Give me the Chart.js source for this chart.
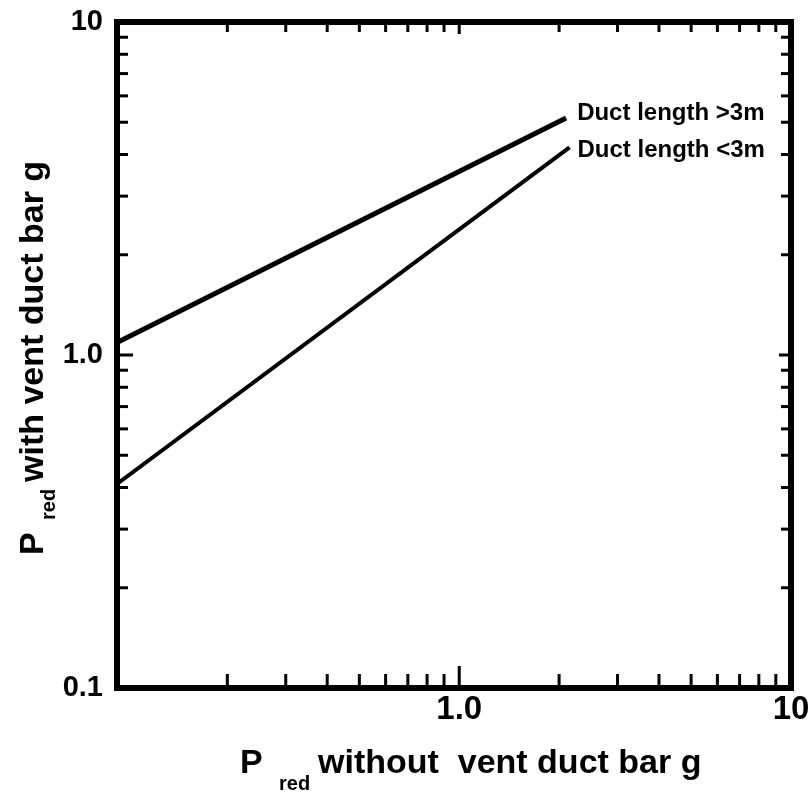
<!DOCTYPE html>
<html>
<head>
<meta charset="utf-8">
<script src="https://cdn.jsdelivr.net/npm/chart.js@4.4.0/dist/chart.umd.min.js"></script>
<style>
  html, body { margin: 0; padding: 0; background: #fff; }
  canvas { display: block; }
</style>
</head>
<body>
<canvas id="ventChart" width="810" height="792"></canvas>
<script>
// P_red without vent duct (bar g) on x, P_red with vent duct (bar g) on y
var longDuctX = [0.093, 2.1];
var longDuctY = [1.09, 5.15];     // duct length > 3 m
var shortDuctX = [0.093, 2.15];
var shortDuctY = [0.41, 4.2];     // duct length < 3 m
var seriesLabels = ['Duct length >3m', 'Duct length <3m'];
var xTickLabels = { 1: '1.0', 10: '10' };
var yTickLabels = { 0.1: '0.1', 1: '1.0', 10: '10' };

var FONT = '"Liberation Sans", Arial, sans-serif';

function toPoints(xs, ys) {
    return xs.map(function (x, i) { return { x: x, y: ys[i] }; });
}

function sameLog(a, b) {
    return Math.abs(Math.log10(a) - Math.log10(b)) < 1e-6;
}

function labelFor(map, value) {
    for (var k in map) {
        if (sameLog(parseFloat(k), value)) return map[k];
    }
    return '';
}

function isDecade(v) {
    var l = Math.log10(v);
    return Math.abs(l - Math.round(l)) < 1e-6;
}

// keep only 1..9 x 10^n ticks (drop the 1.5-style ones chart.js adds)
function keepWholeTicks(scale) {
    scale.ticks = scale.ticks.filter(function (t) {
        var m = t.value / Math.pow(10, Math.floor(Math.log10(t.value) + 1e-9));
        return Math.abs(m - Math.round(m)) < 1e-6;
    });
}

var boxPlugin = {
    id: 'boxPlugin',
    afterDatasetsDraw: function (chart) {
        var c = chart.ctx, a = chart.chartArea;
        var xs = chart.scales.x, ys = chart.scales.y;

        function seg(x1, y1, x2, y2) {
            c.beginPath(); c.moveTo(x1, y1); c.lineTo(x2, y2); c.stroke();
        }

        c.save();
        c.strokeStyle = '#000';
        c.lineCap = 'butt';

        // tick marks point into the plot on all four sides
        c.lineWidth = 3;
        xs.ticks.forEach(function (t) {
            var px = xs.getPixelForValue(t.value), big = isDecade(t.value);
            if (px < a.left + 12 || px > a.right - 6) return;
            seg(px, a.bottom, px, a.bottom - (big ? 22 : 14));
            seg(px, a.top, px, a.top + (big ? 12 : 10));
        });
        ys.ticks.forEach(function (t) {
            var py = ys.getPixelForValue(t.value), big = isDecade(t.value);
            if (py < a.top + 6 || py > a.bottom - 6) return;
            seg(a.left, py, a.left + (big ? 16 : 11), py);
            seg(a.right, py, a.right - (big ? 12 : 10), py);
        });

        // heavy frame
        c.lineWidth = 6;
        c.lineJoin = 'miter';
        c.strokeRect(a.left, a.top, a.right - a.left, a.bottom - a.top);

        // line labels next to the line ends
        c.fillStyle = '#000';
        c.font = 'bold 24px ' + FONT;
        c.textBaseline = 'alphabetic';
        c.textAlign = 'left';
        var ends = [
            { x: longDuctX[1], y: longDuctY[1], dx: 11, dy: 2 },
            { x: shortDuctX[1], y: shortDuctY[1], dx: 8, dy: 10 }
        ];
        ends.forEach(function (e, i) {
            c.fillText(seriesLabels[i], xs.getPixelForValue(e.x) + e.dx, ys.getPixelForValue(e.y) + e.dy);
        });

        // x axis title with subscript
        c.font = 'bold 34px ' + FONT;
        c.fillText('P', 240, 773);
        c.fillText('without  vent duct bar g', 318, 773);
        c.font = 'bold 20px ' + FONT;
        c.fillText('red', 279, 790);

        // y axis title, rotated
        c.translate(43, 555);
        c.rotate(-Math.PI / 2);
        c.font = 'bold 34px ' + FONT;
        c.fillText('P', 0, 0);
        c.fillText('with vent duct bar g', 73, 0);
        c.font = 'bold 20px ' + FONT;
        c.fillText('red', 35, 12);
        c.restore();
    }
};

function noEdgePadding(s) {
    s.paddingTop = 0;
    s.paddingBottom = 0;
    s.paddingLeft = 0;
    s.paddingRight = 0;
}

var ctx = document.getElementById('ventChart').getContext('2d');
new Chart(ctx, {
    type: 'line',
    data: {
        datasets: [
            {
                label: seriesLabels[0],
                data: toPoints(longDuctX, longDuctY),
                borderColor: '#000',
                borderWidth: 5,
                pointRadius: 0,
                tension: 0
            },
            {
                label: seriesLabels[1],
                data: toPoints(shortDuctX, shortDuctY),
                borderColor: '#000',
                borderWidth: 4,
                pointRadius: 0,
                tension: 0
            }
        ]
    },
    options: {
        responsive: false,
        animation: false,
        layout: { padding: { left: 0, right: 19, top: 22, bottom: 0 } },
        plugins: {
            legend: { display: false },
            tooltip: { enabled: false }
        },
        scales: {
            x: {
                type: 'logarithmic',
                min: 0.093,
                max: 10,
                grid: { display: false, drawTicks: false },
                border: { display: false },
                afterBuildTicks: keepWholeTicks,
                afterFit: function (s) { s.height = 104; noEdgePadding(s); },
                ticks: {
                    autoSkip: false,
                    maxRotation: 0,
                    minRotation: 0,
                    padding: 2,
                    color: '#000',
                    font: { family: FONT, size: 33, weight: 'bold' },
                    callback: function (v) { return labelFor(xTickLabels, v); }
                }
            },
            y: {
                type: 'logarithmic',
                min: 0.1,
                max: 10,
                grid: { display: false, drawTicks: false },
                border: { display: false },
                afterBuildTicks: keepWholeTicks,
                afterFit: function (s) { s.width = 117; noEdgePadding(s); },
                ticks: {
                    autoSkip: false,
                    padding: 14,
                    color: '#000',
                    font: { family: FONT, size: 29, weight: 'bold' },
                    callback: function (v) { return labelFor(yTickLabels, v); }
                }
            }
        }
    },
    plugins: [boxPlugin]
});
</script>
</body>
</html>
